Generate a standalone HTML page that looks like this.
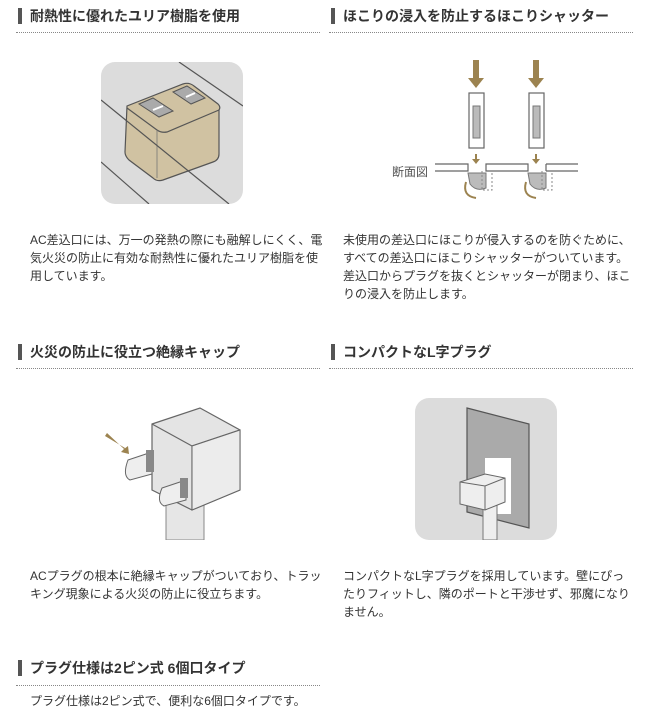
<!DOCTYPE html>
<html><head><meta charset="utf-8"><style>
body{margin:0;background:#fff;width:660px;height:724px;position:relative;overflow:hidden;font-family:"Liberation Sans","Noto Sans CJK JP",sans-serif;color:#333}
.h{position:absolute;font-size:14px;font-weight:bold;line-height:18px;padding-left:12px;height:18px;white-space:nowrap;color:#333}
.h:before{content:"";position:absolute;left:0;top:1px;width:4px;height:16px;background:#555}
.d{position:absolute;height:0;border-top:1px dotted #888}
.p{position:absolute;font-size:12px;line-height:18px;color:#333}
svg{position:absolute}
</style></head><body>
<div class="h" style="left:18px;top:7px">耐熱性に優れたユリア樹脂を使用</div>
<div class="d" style="left:16px;top:32px;width:304px"></div>
<div class="h" style="left:331px;top:7px">ほこりの浸入を防止するほこりシャッター</div>
<div class="d" style="left:329px;top:32px;width:304px"></div>

<svg style="left:101px;top:62px" width="142" height="142" viewBox="0 0 142 142">
<rect x="0" y="0" width="142" height="142" rx="14" fill="#dcdcdc"/>
<line x1="78" y1="0" x2="142" y2="44" stroke="#555" stroke-width="1.2"/>
<path d="M26 44 L82 22 Q88 20 93 24 L117 42 Q120 45 118 48 L118 92 Q118 98 112 100 L62 118 Q56 120 52 116 L28 98 Q24 94 24 90 Z" fill="#d0c2a2" stroke="#555" stroke-width="1.2"/>
<path d="M26 46 L56 68 Q60 71 66 70 L118 48" fill="none" stroke="#555" stroke-width="1.2"/>
<line x1="56" y1="68" x2="56" y2="116" stroke="#777" stroke-width="0.8"/>
<path d="M38 42 L52 36 L72 49 L58 55 Z" fill="#aaa" stroke="#555"/>
<path d="M72 30 L86 24 L104 36 L90 42 Z" fill="#aaa" stroke="#555"/>
<line x1="52" y1="48" x2="62" y2="44" stroke="#fff" stroke-width="2"/>
<line x1="85" y1="35" x2="94" y2="31" stroke="#fff" stroke-width="2"/>
<line x1="0" y1="38" x2="128" y2="142" stroke="#555" stroke-width="1.2"/>
<line x1="0" y1="100" x2="48" y2="142" stroke="#555" stroke-width="1.2"/>
</svg>

<svg style="left:390px;top:60px" width="200" height="160" viewBox="0 0 200 160">
<g fill="#9c8350">
<rect x="83" y="0" width="6" height="20"/><polygon points="78,18 94,18 86,28"/>
<rect x="143" y="0" width="6" height="20"/><polygon points="138,18 154,18 146,28"/>
</g>
<rect x="79" y="33" width="15" height="55" fill="#fff" stroke="#666" stroke-width="1.2"/>
<rect x="83" y="46" width="7" height="32" fill="#bbb" stroke="#777"/>
<rect x="139" y="33" width="15" height="55" fill="#fff" stroke="#666" stroke-width="1.2"/>
<rect x="143" y="46" width="7" height="32" fill="#bbb" stroke="#777"/>
<path d="M45 104 H78 V111 H45 M156 104 H188 M156 111 H188 M156 104 V111" fill="none" stroke="#666" stroke-width="1.2"/>
<path d="M96 104 H138 V111 H96 Z" fill="#fff" stroke="#666" stroke-width="1.2"/>
<g fill="#9c8350"><rect x="85" y="94" width="2" height="6"/><polygon points="82,99 90,99 86,104"/><rect x="145" y="94" width="2" height="6"/><polygon points="142,99 150,99 146,104"/></g>
<path d="M78 113 H96 V128 Q86 132 80 124 Z" fill="#bbb" stroke="#777"/>
<path d="M138 113 H156 V128 Q146 132 140 124 Z" fill="#bbb" stroke="#777"/>
<path d="M92 111 V130 H102 V111" fill="none" stroke="#888" stroke-dasharray="2,2"/>
<path d="M152 111 V130 H162 V111" fill="none" stroke="#888" stroke-dasharray="2,2"/>
<path d="M76 122 Q72 136 86 138" fill="none" stroke="#9c8350" stroke-width="2"/>
<path d="M136 122 Q132 136 146 138" fill="none" stroke="#9c8350" stroke-width="2"/>
</svg>
<div class="p" style="left:392px;top:163px;font-size:12px;color:#555">断面図</div>

<div class="p" style="left:30px;top:231px;width:298px">AC差込口には、万一の発熱の際にも融解しにくく、電気火災の防止に有効な耐熱性に優れたユリア樹脂を使用しています。</div>
<div class="p" style="left:343px;top:231px;width:290px">未使用の差込口にほこりが侵入するのを防ぐために、すべての差込口にほこりシャッターがついています。差込口からプラグを抜くとシャッターが閉まり、ほこりの浸入を防止します。</div>

<div class="h" style="left:18px;top:343px">火災の防止に役立つ絶縁キャップ</div>
<div class="d" style="left:16px;top:368px;width:304px"></div>
<div class="h" style="left:331px;top:343px">コンパクトなL字プラグ</div>
<div class="d" style="left:329px;top:368px;width:304px"></div>

<svg style="left:100px;top:400px" width="150" height="140" viewBox="0 0 150 140">
<rect x="66" y="100" width="38" height="40" fill="#e6e6e6" stroke="#888"/>
<path d="M52 24 L100 8 L140 30 L140 90 L92 110 L52 90 Z" fill="#e4e4e4" stroke="#666" stroke-width="1.2"/>
<path d="M52 24 L92 46 L140 30 M92 46 L92 110" fill="none" stroke="#666" stroke-width="1.2"/>
<path d="M92 46 L140 30 L140 90 L92 110 Z" fill="#ececec" stroke="#666"/>
<path d="M28 60 L52 52 L52 74 L30 80 Q22 76 28 60 Z" fill="#eee" stroke="#666"/>
<path d="M62 88 L86 80 L86 100 L64 106 Q56 102 62 88 Z" fill="#eee" stroke="#666"/>
<rect x="46" y="50" width="8" height="22" fill="#888"/>
<rect x="80" y="78" width="8" height="20" fill="#888"/>
<polygon points="5,36 25,48 21,52 29,54 28,46 24,49 7,33" fill="#9c8350"/>
</svg>

<svg style="left:415px;top:398px" width="142" height="142" viewBox="0 0 142 142">
<rect x="0" y="0" width="142" height="142" rx="14" fill="#dcdcdc"/>
<path d="M52 10 L114 26 L114 130 L52 114 Z" fill="#aaa" stroke="#555" stroke-width="1.2"/>
<rect x="70" y="60" width="26" height="56" fill="#fff"/>
<rect x="68" y="105" width="14" height="37" fill="#eee" stroke="#777"/>
<path d="M45 84 L70 76 L90 80 L90 104 L70 112 L45 106 Z" fill="#eee" stroke="#666"/>
<path d="M45 84 L70 88 L90 80 M70 88 L70 112" fill="none" stroke="#666"/>
</svg>

<div class="p" style="left:30px;top:567px;width:298px">ACプラグの根本に絶縁キャップがついており、トラッキング現象による火災の防止に役立ちます。</div>
<div class="p" style="left:343px;top:567px;width:290px">コンパクトなL字プラグを採用しています。壁にぴったりフィットし、隣のポートと干渉せず、邪魔になりません。</div>

<div class="h" style="left:18px;top:659px">プラグ仕様は2ピン式 6個口タイプ</div>
<div class="d" style="left:16px;top:685px;width:304px"></div>
<div class="p" style="left:30px;top:692px;width:300px">プラグ仕様は2ピン式で、便利な6個口タイプです。</div>
</body></html>
